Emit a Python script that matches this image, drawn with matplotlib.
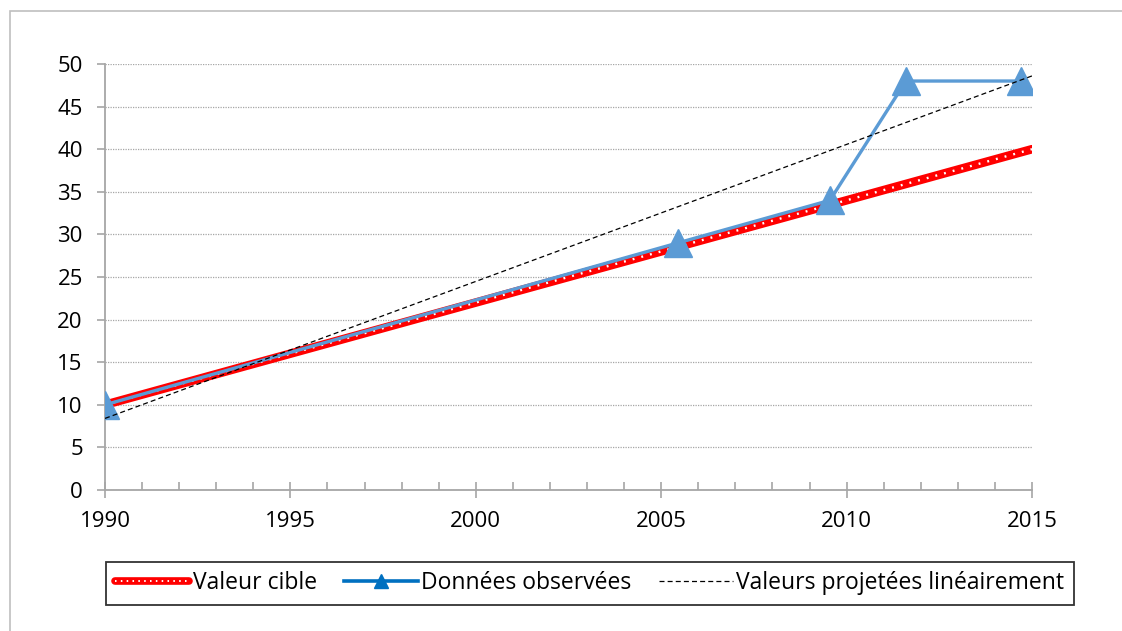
import matplotlib.pyplot as plt
from matplotlib.lines import Line2D
from matplotlib.patches import Rectangle
from matplotlib.ticker import MultipleLocator

plt.rcParams['font.family'] = ['Open Sans', 'DejaVu Sans']

# données
cible_annees = [1990, 2015]
cible_valeurs = [10, 40]

obs_annees = [1990, 2005.45, 2009.55, 2011.6, 2014.7]
obs_valeurs = [10, 29, 34, 48, 48]

proj_annees = [1990, 2015]
proj_valeurs = [8.4, 48.6]

labels = ["Valeur cible", "Données observées", "Valeurs projetées linéairement"]

fig = plt.figure(figsize=(11.22, 6.31), dpi=100)
ax = fig.add_axes([0.0936, 0.2235, 0.8262, 0.6751])

# cadre gris autour du graphique
fig.patches.append(Rectangle((10 / 1122, -0.1), 1.2, 1 - 11 / 631 + 0.1,
                             transform=fig.transFigure, fill=False,
                             edgecolor='#BFBFBF', linewidth=1.2))

# ligne rouge épaisse avec petits points blancs
l_red, = ax.plot(cible_annees, cible_valeurs, color='#FF0000', lw=6.2,
                 solid_capstyle='round', zorder=3)
l_white, = ax.plot(cible_annees, cible_valeurs, color='white', lw=1.7,
                   dashes=(0.8, 3.0), zorder=4)

l_obs, = ax.plot(obs_annees, obs_valeurs, color='#5B9BD5', lw=2.4,
                 marker='^', ms=20, mfc='#5B9BD5', mec='#5B9BD5', zorder=5)

l_proj, = ax.plot(proj_annees, proj_valeurs, color='black', lw=0.9,
                  dashes=(4, 2.5), zorder=6)

ax.set_xlim(1990, 2015)
ax.set_ylim(0, 50)
ax.xaxis.set_major_locator(MultipleLocator(5))
ax.xaxis.set_minor_locator(MultipleLocator(1))
ax.yaxis.set_major_locator(MultipleLocator(5))

ax.grid(axis='y', color='#A6A6A6', linestyle=(0, (1, 1)), lw=0.9)
ax.set_axisbelow(True)

for s in ['top', 'right']:
    ax.spines[s].set_visible(False)
for s in ['left', 'bottom']:
    ax.spines[s].set_color('#A6A6A6')
    ax.spines[s].set_linewidth(1.3)

ax.tick_params(axis='x', which='major', direction='inout', length=12,
               color='#A6A6A6', width=1.2, labelsize=16, pad=9)
ax.tick_params(axis='x', which='minor', direction='in', length=6,
               color='#A6A6A6', width=1.2)
ax.tick_params(axis='y', which='major', direction='out', length=6,
               color='#A6A6A6', width=1.2, labelsize=16, pad=10)

# légende (poignée bleue plus foncée comme dans l'original)
h_obs = Line2D([], [], color='#0070C0', lw=2.6, marker='^', ms=10,
               mfc='#0070C0', mec='#0070C0')
h_red = Line2D([], [], color='#FF0000', lw=5.5, solid_capstyle='round')
h_white = Line2D([], [], color='white', lw=1.4, dashes=(0.8, 2.2))
leg = fig.legend([(h_red, h_white), h_obs, l_proj], labels,
                 loc='center', bbox_to_anchor=(0.5258, 0.0753), ncol=3,
                 fontsize=16.5, frameon=True, fancybox=False,
                 handlelength=3.2, handletextpad=0.17, columnspacing=1.2,
                 borderpad=0.42, borderaxespad=0)
leg.get_frame().set_edgecolor('black')
leg.get_frame().set_linewidth(1.3)

fig.savefig('out.png', dpi=100)
